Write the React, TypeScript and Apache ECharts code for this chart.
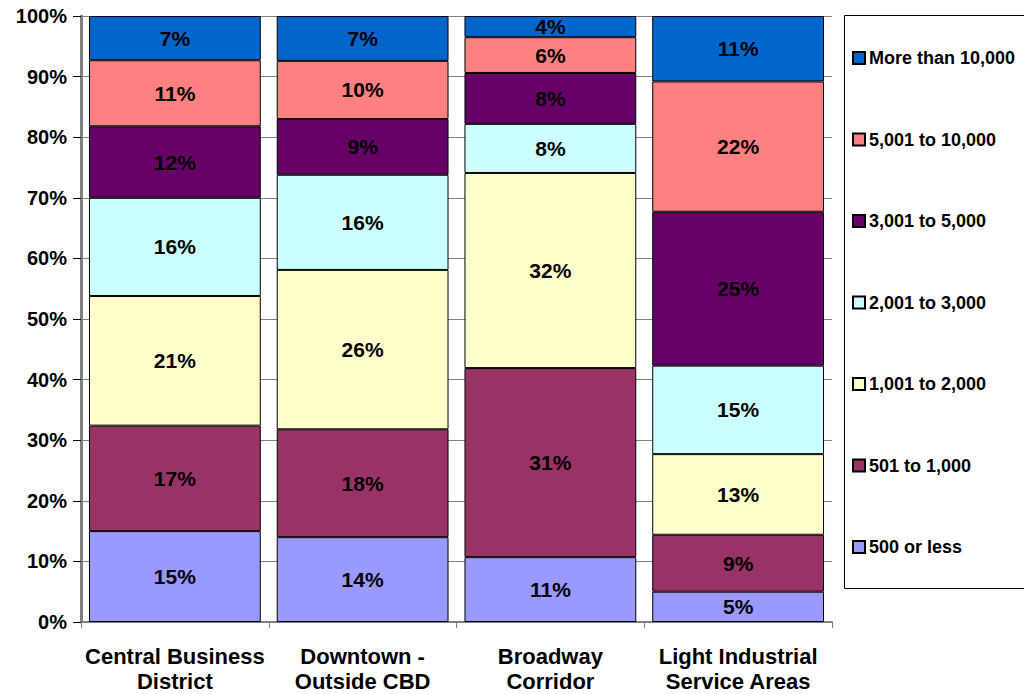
import React, { useEffect, useRef } from "react";
import * as echarts from "echarts";

const categories = [
  "Central Business\nDistrict",
  "Downtown -\nOutside CBD",
  "Broadway\nCorridor",
  "Light Industrial\nService Areas",
];

const seriesNames = [
  "500 or less",
  "501 to 1,000",
  "1,001 to 2,000",
  "2,001 to 3,000",
  "3,001 to 5,000",
  "5,001 to 10,000",
  "More than 10,000",
];

const seriesColors = [
  "#9999FF",
  "#993366",
  "#FFFFCC",
  "#CCFFFF",
  "#660066",
  "#FF8080",
  "#0066CC",
];

// values per size class, in category order
const v500OrLess = [15.0, 14.0, 10.7, 5.0];
const v501to1000 = [17.4, 17.8, 31.2, 9.4];
const v1001to2000 = [21.4, 26.3, 32.2, 13.3];
const v2001to3000 = [16.2, 15.7, 8.1, 14.6];
const v3001to5000 = [11.8, 9.2, 8.4, 25.4];
const v5001to10000 = [10.9, 9.6, 5.9, 21.5];
const vMoreThan10000 = [7.3, 7.4, 3.5, 10.8];

const seriesValues = [
  v500OrLess,
  v501to1000,
  v1001to2000,
  v2001to3000,
  v3001to5000,
  v5001to10000,
  vMoreThan10000,
];

const FONT = 'Arial, "Liberation Sans", Helvetica, sans-serif';

export default function App() {
  const ref = useRef<HTMLDivElement>(null);

  useEffect(() => {
    if (!ref.current) return;
    const chart = echarts.init(ref.current, undefined, { renderer: "svg" });
    chart.setOption({
      animation: false,
      backgroundColor: "#ffffff",
      grid: {
        left: 81,
        right: 192,
        top: 16,
        bottom: 72,
        containLabel: false,
        outerBoundsMode: "none",
      },
      legend: {
        orient: "vertical",
        left: 852,
        top: 49,
        itemWidth: 12,
        itemHeight: 12,
        itemGap: 63.5,
        icon: "rect",
        data: [...seriesNames].reverse(),
        textStyle: {
          fontFamily: FONT,
          fontWeight: "bold",
          fontSize: 18,
          lineHeight: 18,
          color: "#000",
          padding: [0, 0, 0, -1],
        },
        padding: 0,
      },
      graphic: [
        {
          type: "rect",
          z: -10,
          shape: { x: 844.5, y: 15.5, width: 200, height: 573 },
          style: { fill: "#ffffff", stroke: "#000000", lineWidth: 1 },
        },
      ],
      xAxis: {
        type: "category",
        data: categories,
        axisLine: { show: true, lineStyle: { color: "#808080", width: 2 } },
        axisTick: { show: true, length: 6, lineStyle: { color: "#808080", width: 1 } },
        axisLabel: {
          fontFamily: FONT,
          fontWeight: "bold",
          fontSize: 22,
          lineHeight: 25,
          color: "#000",
          margin: 22,
          interval: 0,
        },
      },
      yAxis: {
        type: "value",
        min: 0,
        max: 100,
        interval: 10,
        axisLine: { show: true, lineStyle: { color: "#808080", width: 3 } },
        axisTick: { show: true, length: 8, lineStyle: { color: "#000", width: 1 } },
        splitLine: { show: true, lineStyle: { color: "#808080", width: 1 } },
        axisLabel: {
          formatter: "{value}%",
          fontFamily: FONT,
          fontWeight: "bold",
          fontSize: 20,
          color: "#000",
          margin: 14,
        },
      },
      series: seriesNames.map((name, i) => ({
        name,
        type: "bar",
        stack: "total",
        barWidth: "91.5%",
        data: seriesValues[i],
        itemStyle: {
          color: seriesColors[i],
          borderColor: "#000",
          borderWidth: 1,
        },
        label: {
          show: true,
          position: "inside",
          formatter: (p: any) => Math.round(p.value) + "%",
          fontFamily: FONT,
          fontWeight: "bold",
          fontSize: 21,
          color: "#000",
        },
      })),
    });
    return () => chart.dispose();
  }, []);

  return (
    <div
      ref={ref}
      style={{ position: "fixed", left: 0, top: 0, width: 1024, height: 694 }}
    />
  );
}
